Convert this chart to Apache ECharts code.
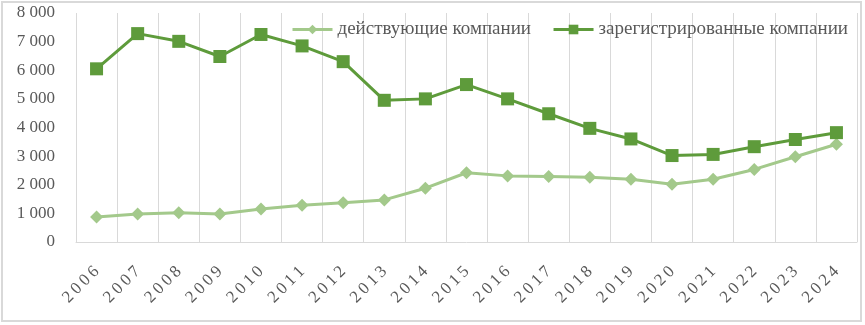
<!DOCTYPE html>
<html><head><meta charset="utf-8">
<script src="https://cdn.jsdelivr.net/npm/echarts@6/dist/echarts.min.js"></script>
<style>html,body{margin:0;padding:0;background:#fff}#c{width:865px;height:325px}</style>
</head><body><div id="c"></div>
<script>
const years = ['2006','2007','2008','2009','2010','2011','2012','2013','2014','2015','2016','2017','2018','2019','2020','2021','2022','2023','2024'];
const active = [870,975,1020,975,1150,1280,1370,1470,1880,2420,2310,2290,2265,2195,2020,2195,2535,2980,3415];
const registered = [6050,7280,7010,6480,7250,6850,6300,4950,5000,5500,5000,4480,3970,3600,3020,3060,3330,3580,3820];
const seriesNames = ['действующие компании','зарегистрированные компании'];
const yTicks = {min:0, max:8000, interval:1000};

const chart = echarts.init(document.getElementById('c'));
const font = '"Liberation Serif", "DejaVu Serif", serif';
const spaced = s => s.split('').join('\u2009');
chart.setOption({
  animation:false,
  backgroundColor:'#fff',
  graphic:[{type:'rect', shape:{x:2,y:2,width:859,height:319}, style:{fill:'none', stroke:'#d9d9d9', lineWidth:2}, z:-1}],
  grid:{left:76, right:8, top:13, bottom:83},
  legend:{
    left:291, top:20, padding:0, itemGap:21, itemWidth:40, itemHeight:12,
    lineStyle:{width:3},
    textStyle:{fontFamily:font, fontSize:19, color:'#595959'},
    data:seriesNames
  },
  xAxis:{
    type:'category', data:years, boundaryGap:true,
    axisLine:{lineStyle:{color:'#d9d9d9', width:1}},
    axisTick:{show:false},
    splitLine:{show:true, lineStyle:{color:'#d9d9d9', width:1}},
    axisLabel:{rotate:45, margin:27, fontFamily:font, fontSize:17, color:'#595959',
      formatter:v=>spaced(v)}
  },
  yAxis:{
    type:'value', min:yTicks.min, max:yTicks.max, interval:yTicks.interval,
    axisLine:{show:false}, axisTick:{show:false}, splitLine:{show:false},
    axisLabel:{margin:21, fontFamily:font, fontSize:17, color:'#595959',
      formatter:v=>String(v).replace(/\B(?=(\d{3})+(?!\d))/g,' ')}
  },
  series:[
    {name:seriesNames[0], type:'line', data:active, symbol:'diamond', symbolSize:13,
     itemStyle:{color:'#a3c98b'}, lineStyle:{color:'#a3c98b', width:3}},
    {name:seriesNames[1], type:'line', data:registered, symbol:'rect', symbolSize:13,
     itemStyle:{color:'#5e9b3b'}, lineStyle:{color:'#5e9b3b', width:3}}
  ]
});
</script></body></html>
